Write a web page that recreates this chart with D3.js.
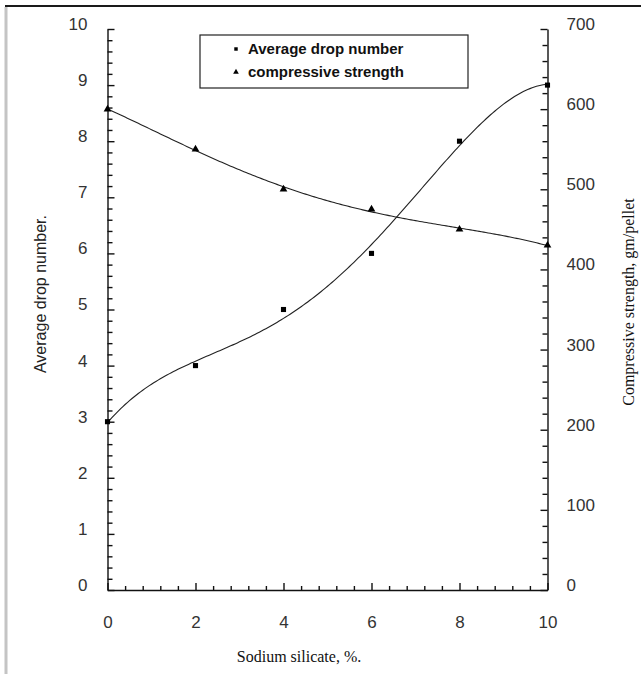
<!DOCTYPE html>
<html>
<head>
<meta charset="utf-8">
<script src="https://cdn.jsdelivr.net/npm/d3@7"></script>
<style>
  html, body { margin: 0; padding: 0; background: #fff; }
  svg { display: block; }
</style>
</head>
<body>
<div id="chart"></div>
<script>
// data
const silicate = [0, 2, 4, 6, 8, 10];
const dropNumber = [3.0, 4.0, 5.0, 6.0, 8.0, 9.0];
const strength = [600, 550, 500, 475, 450, 430];

const xTicks = [0, 2, 4, 6, 8, 10];
const leftTicks = [0, 1, 2, 3, 4, 5, 6, 7, 8, 9, 10];
const rightTicks = [0, 100, 200, 300, 400, 500, 600, 700];

const seriesNames = ['Average drop number', 'compressive strength'];

const width = 641,
    height = 674;

const svg = d3.select('#chart').append('svg').attr('width', width).attr('height', height);

// scanned page frame
svg.append('line').attr('x1', 5).attr('x2', width).attr('y1', 6).attr('y2', 6).attr('stroke', '#1a1a1a').attr('stroke-width', 2);
svg.append('line').attr('x1', 6).attr('x2', 6).attr('y1', 7).attr('y2', height).attr('stroke', '#c4c4c4').attr('stroke-width', 3);

const plot = { left: 107.5, right: 547.5, top: 29, bottom: 590 };

const x = d3.scaleLinear().domain([0, 10]).range([plot.left, plot.right]);
const yL = d3.scaleLinear().domain([0, 10]).range([plot.bottom, plot.top]);
const yR = d3.scaleLinear().domain([0, 700]).range([plot.bottom, plot.top]);

// least squares polynomial trendline (order 4), like the original spreadsheet fit
function polyFit(xs, ys, order) {
    const n = order + 1;
    const A = [];
    for (let i = 0; i < n; i++) {
        A.push([]);
        for (let j = 0; j < n; j++) A[i].push(d3.sum(xs, (v) => Math.pow(v, i + j)));
        A[i].push(d3.sum(xs, (v, k) => Math.pow(v, i) * ys[k]));
    }
    for (let c = 0; c < n; c++) {
        let p = c;
        for (let r = c + 1; r < n; r++) if (Math.abs(A[r][c]) > Math.abs(A[p][c])) p = r;
        [A[c], A[p]] = [A[p], A[c]];
        for (let r = 0; r < n; r++) {
            if (r === c) continue;
            const f = A[r][c] / A[c][c];
            for (let k = c; k <= n; k++) A[r][k] -= f * A[c][k];
        }
    }
    const coef = A.map((row, i) => row[n] / row[i]);
    return (v) => coef.reduce((s, a, i) => s + a * Math.pow(v, i), 0);
}

const dropFit = polyFit(silicate, dropNumber, 4);
const strengthFit = polyFit(silicate, strength, 4);
const xs = d3.range(0, 10.0001, 0.05);

const line = d3.line().curve(d3.curveLinear);

svg.append('path')
    .attr('d', line(xs.map((v) => [x(v), yL(dropFit(v))])))
    .attr('fill', 'none')
    .attr('stroke', '#222')
    .attr('stroke-width', 1.1);

svg.append('path')
    .attr('d', line(xs.map((v) => [x(v), yR(strengthFit(v))])))
    .attr('fill', 'none')
    .attr('stroke', '#222')
    .attr('stroke-width', 1.1);

// axes
const tickFont = (g) =>
    g.selectAll('text').style('font-family', '"Liberation Sans", Arial, sans-serif').style('font-size', '17px').attr('fill', '#333');

const xMinor = d3.range(0, 10.001, 0.4).filter((v) => Math.abs(v / 2 - Math.round(v / 2)) > 0.01);
const leftMinor = d3.range(0, 10.001, 0.2).filter((v) => Math.abs(v - Math.round(v)) > 0.01);
const rightMinor = d3.range(0, 700.1, 20).filter((v) => v % 100 !== 0);

svg.append('g')
    .attr('transform', `translate(0,${plot.bottom})`)
    .call(d3.axisBottom(x).tickValues(xMinor).tickFormat('').tickSize(-4).tickSizeOuter(0))
    .call((g) => g.select('.domain').remove());
svg.append('g')
    .attr('transform', `translate(0,${plot.bottom})`)
    .call(d3.axisBottom(x).tickValues(xTicks).tickSize(-7).tickSizeOuter(0).tickPadding(26))
    .call(tickFont);

svg.append('g')
    .attr('transform', `translate(${plot.left},0)`)
    .call(d3.axisLeft(yL).tickValues(leftMinor).tickFormat('').tickSize(-5).tickSizeOuter(0))
    .call((g) => g.select('.domain').remove());
svg.append('g')
    .attr('transform', `translate(${plot.left},0)`)
    .call(d3.axisLeft(yL).tickValues(leftTicks).tickSize(-7).tickSizeOuter(0).tickPadding(20))
    .call(tickFont)
    .call((g) => g.selectAll('text').attr('y', -5));

svg.append('g')
    .attr('transform', `translate(${plot.right},0)`)
    .call(d3.axisRight(yR).tickValues(rightMinor).tickFormat('').tickSize(-5).tickSizeOuter(0))
    .call((g) => g.select('.domain').remove());
svg.append('g')
    .attr('transform', `translate(${plot.right},0)`)
    .call(d3.axisRight(yR).tickValues(rightTicks).tickSize(-7).tickSizeOuter(0).tickPadding(19))
    .call(tickFont)
    .call((g) => g.selectAll('text').attr('y', -5));

svg.selectAll('.domain, .tick line').attr('stroke', '#111').attr('stroke-width', 1.4);

// markers
const square = d3.symbol().type(d3.symbolSquare).size(26);
const triangle = d3.symbol().type(d3.symbolTriangle).size(26);

svg.append('g')
    .selectAll('path')
    .data(silicate)
    .enter()
    .append('path')
    .attr('d', square)
    .attr('transform', (d, i) => `translate(${x(d)},${yL(dropNumber[i])})`)
    .attr('fill', '#000');

svg.append('g')
    .selectAll('path')
    .data(silicate)
    .enter()
    .append('path')
    .attr('d', triangle)
    .attr('transform', (d, i) => `translate(${x(d)},${yR(strength[i])})`)
    .attr('fill', '#000');

// axis titles
svg.append('text')
    .attr('x', 299)
    .attr('y', 662)
    .attr('text-anchor', 'middle')
    .style('font-family', '"Liberation Serif", "Times New Roman", serif')
    .style('font-size', '16px')
    .attr('fill', '#111')
    .text('Sodium silicate, %.');

svg.append('text')
    .attr('transform', 'translate(46,294) rotate(-90)')
    .attr('text-anchor', 'middle')
    .style('font-family', '"Liberation Sans", Arial, sans-serif')
    .style('font-size', '16px')
    .attr('fill', '#222')
    .text('Average drop number.');

svg.append('text')
    .attr('transform', 'translate(634,302) rotate(-90)')
    .attr('text-anchor', 'middle')
    .style('font-family', '"Liberation Serif", "Times New Roman", serif')
    .style('font-size', '16px')
    .attr('fill', '#111')
    .text('Compressive strength, gm/pellet');

// legend
const legend = svg.append('g').attr('class', 'legend').attr('transform', 'translate(200,35)');

legend.append('rect').attr('width', 268).attr('height', 53).attr('fill', '#fff').attr('stroke', '#222').attr('stroke-width', 1.2);

const legendSymbols = [d3.symbol().type(d3.symbolSquare).size(12), d3.symbol().type(d3.symbolTriangle).size(14)];

legend
    .selectAll('path.legend-mark')
    .data(seriesNames)
    .enter()
    .append('path')
    .attr('class', 'legend-mark')
    .attr('d', (d, i) => legendSymbols[i]())
    .attr('transform', (d, i) => `translate(36,${14 + i * 23})`)
    .attr('fill', '#000');

legend
    .selectAll('text')
    .data(seriesNames)
    .enter()
    .append('text')
    .attr('x', 48)
    .attr('y', (d, i) => 19 + i * 23)
    .text((d) => d)
    .attr('fill', '#111')
    .style('font-family', '"Liberation Sans", Arial, sans-serif')
    .style('font-size', '15px')
    .style('font-weight', 'bold');
</script>
</body>
</html>
